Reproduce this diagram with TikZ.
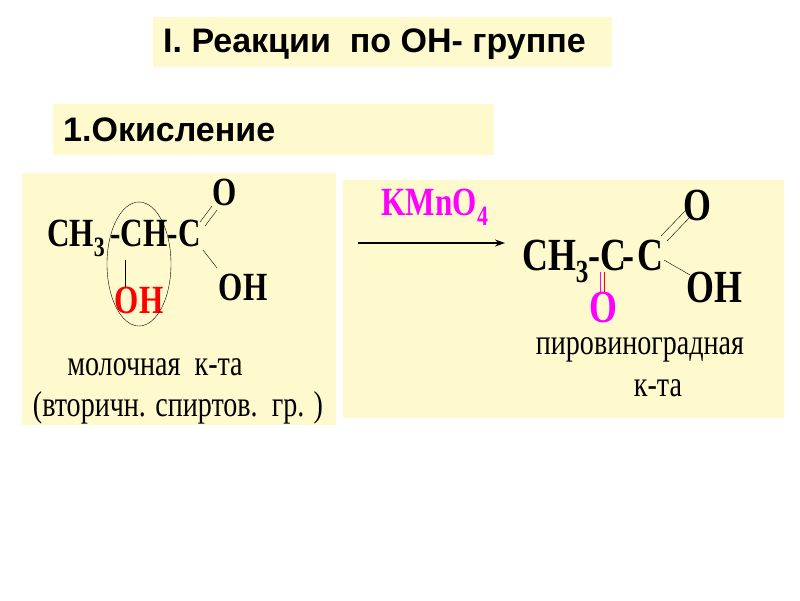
\documentclass[tikz,border=0pt]{standalone}
\usepackage{fontspec}
\usetikzlibrary{arrows.meta}
\setmainfont{Liberation Serif}
\setsansfont{Liberation Sans}
\begin{document}
\begin{tikzpicture}[x=1pt,y=-1pt,
  box/.style={fill=bg,draw=none},
  chem/.style={font=\fontsize{40}{40}\selectfont\bfseries,inner sep=0,xscale=0.78},
  chemb/.style={font=\fontsize{46}{46}\selectfont\bfseries,inner sep=0,xscale=0.78},
  lbl/.style={font=\fontsize{36}{40}\selectfont,inner sep=0,xscale=0.78},
  head/.style={font=\sffamily\bfseries\fontsize{34}{34}\selectfont,inner sep=0,anchor=west}]
\definecolor{bg}{RGB}{255,250,205}
\definecolor{mag}{RGB}{255,0,255}
\useasboundingbox (0,0) rectangle (800,600);
\fill[white] (0,0) rectangle (800,600);
\fill[box] (153,17) rectangle (612,67);
\fill[box] (53,104) rectangle (494,155);
\fill[box] (22,173) rectangle (336,425);
\fill[box] (343,180) rectangle (784,418);
\node[head] (t1) at (163,44) {I. Реакции\ \ по ОН- группе};
\node[head] (t2) at (63,130) {1.Окисление};
% left molecule
\node[chem,anchor=west] (lf) at (47,238) {CH$_{\mathbf 3}$\,-CH-C};
\node[chem] (lo) at (225,192) {O};
\node[chem] (loh) at (243,287) {OH};
\node[chem,red] (roh) at (139,300) {OH};
\draw (125,260) -- (125,287);
\draw (139,264) ellipse (32 and 62);
\draw (200,222) -- (212,206) (205,226) -- (217,210);
\draw (203,250) -- (217,268);
\node[lbl] (l1) at (155,367) {молочная\ \ к-та};
\node[lbl] (l2) at (178,408) {(вторичн. спиртов.\ \ гр. )};
% arrow
\coordinate (a1) at (358,243);
\coordinate (a2) at (505,243);
\draw[-{Stealth[length=10pt,width=7pt]},line width=1.2pt] (a1) -- (a2);
\node[chem,mag] (k) at (435,207) {KMnO$_{\mathbf 4}$};
% right molecule
\node[chemb,anchor=base west] (rf) at (522,270) {CH$_{\mathbf 3}$-C};
\node[chemb,anchor=base] (rd) at (628,270) {-};
\node[chemb,anchor=base] (rc) at (650,270) {C};
\node[chemb] (ro) at (697,205) {O};
\node[chemb] (roh2) at (714,287) {OH};
\node[chemb,mag,anchor=base] (ro2) at (603,322) {O};
\draw[mag] (600,272) -- (600,292);
\draw[red] (604,272) -- (604,292);
\draw (661,236) -- (686,210) (667,241) -- (692,215);
\draw (664,260) -- (690,275);
\node[lbl] (r1) at (640,350) {пировиноградная};
\node[lbl] (r2) at (658,388) {к-та};
\end{tikzpicture}
\end{document}
